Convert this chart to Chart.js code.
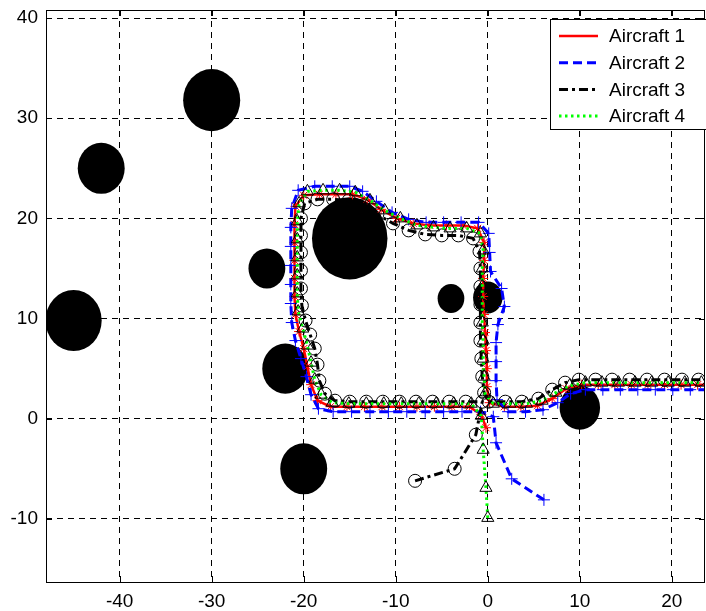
<!DOCTYPE html>
<html>
<head>
<meta charset="utf-8">
<script src="https://cdn.jsdelivr.net/npm/chart.js@4.4.0/dist/chart.umd.min.js"></script>
<style>
  html, body { margin: 0; padding: 0; background: #fff; }
  #wrap { width: 706px; height: 611px; }
</style>
</head>
<body>
<div id="wrap"><canvas id="pathChart" width="706" height="611"></canvas></div>
<script>
// axis limits and tick values
const xRange = [-48, 23.6];
const yRange = [-16.3, 40.8];
const xTicks = [-40, -30, -20, -10, 0, 10, 20];
const yTicks = [-10, 0, 10, 20, 30, 40];

// circular obstacles: centre x, centre y, radius
const obstacleX = [-30, -42, -45, -15, -24, -4, 0, -22, -20, 10];
const obstacleY = [31.8, 25, 9.8, 18, 15, 12, 12.1, 5, -5, 1.1];
const obstacleR = [3.1, 2.55, 3.05, 4.1, 2.0, 1.45, 1.6, 2.5, 2.55, 2.2];

const labels = ["Aircraft 1", "Aircraft 2", "Aircraft 3", "Aircraft 4"];

// flown positions, one sample per time step
const aircraft1 = [
  [-0.2,-0.9], [-0.7,0.4], [-2.0,1.2], [-3.9,1.2], [-5.8,1.2], [-7.7,1.2], [-9.6,1.2], [-11.5,1.2],
  [-13.4,1.2], [-15.3,1.2], [-17.1,1.2], [-18.5,1.8], [-19.2,3.4], [-19.6,5.2], [-20.0,7.0], [-20.5,8.7],
  [-20.9,10.4], [-21.0,12.2], [-21.0,14.0], [-21.0,15.8], [-21.0,17.6], [-21.0,19.4], [-20.9,21.2], [-20.0,22.3],
  [-18.3,22.4], [-16.5,22.4], [-14.7,22.4], [-13.1,21.9], [-11.6,20.9], [-9.9,20.0], [-8.1,19.5], [-6.3,19.3],
  [-4.5,19.3], [-2.7,19.3], [-1.1,19.0], [-0.4,17.6], [-0.4,15.8], [-0.5,14.0], [-0.5,12.2], [-0.4,10.4],
  [-0.3,8.6], [-0.2,6.8], [-0.1,5.0], [-0.1,3.2], [0.2,1.6], [1.8,1.2], [3.6,1.2], [5.4,1.3],
  [7.0,2.0], [8.5,3.0], [10.2,3.4], [12.0,3.4], [13.8,3.4], [15.6,3.4], [17.4,3.4], [19.2,3.4],
  [21.0,3.4], [22.8,3.4], [24.6,3.4]
];
const aircraft2 = [
  [6.1,-8.1], [2.6,-6.0], [0.9,-2.4], [0.6,0.2], [-0.8,0.7], [-2.8,0.7], [-4.8,0.7], [-6.8,0.7],
  [-8.8,0.7], [-10.8,0.7], [-12.8,0.7], [-14.8,0.7], [-16.8,0.7], [-18.4,1.0], [-19.2,2.4], [-19.7,4.2],
  [-20.3,6.0], [-20.9,7.8], [-21.3,9.6], [-21.4,11.5], [-21.4,13.4], [-21.4,15.3], [-21.4,17.2], [-21.4,19.1],
  [-21.3,21.0], [-20.6,22.8], [-18.8,23.2], [-16.9,23.2], [-15.0,23.2], [-13.6,22.7], [-12.1,21.7], [-10.4,20.6],
  [-8.6,19.9], [-6.7,19.6], [-4.8,19.6], [-2.9,19.6], [-1.0,19.6], [0.1,18.5], [0.2,16.6], [0.3,14.7],
  [1.5,13.0], [1.8,11.2], [1.1,9.4], [0.9,7.6], [0.9,5.7], [0.9,3.8], [1.0,1.9], [2.2,0.7],
  [4.1,0.7], [6.0,0.9], [7.6,1.6], [9.0,2.5], [10.6,2.9], [12.5,2.9], [14.4,2.9], [16.3,2.9],
  [18.2,2.9], [20.1,2.9], [22.0,2.9], [23.9,2.9]
];
const aircraft3 = [
  [-7.9,-6.2], [-3.6,-5.0], [-1.3,-1.6], [-0.6,1.7], [-2.4,1.7], [-4.2,1.7], [-6.0,1.7], [-7.8,1.7],
  [-9.6,1.7], [-11.4,1.7], [-13.2,1.7], [-15.0,1.7], [-16.6,1.8], [-17.7,2.5], [-18.3,3.8], [-18.5,5.4],
  [-18.8,7.0], [-19.3,8.4], [-19.8,9.8], [-20.2,11.3], [-20.3,13.0], [-20.3,14.8], [-20.3,16.6], [-20.3,18.3],
  [-20.3,20.0], [-19.9,21.5], [-18.5,21.9], [-16.8,21.9], [-15.1,21.8], [-13.5,21.3], [-12.0,20.4], [-10.3,19.5],
  [-8.6,18.8], [-6.8,18.4], [-5.0,18.3], [-3.2,18.3], [-1.6,18.0], [-0.9,16.7], [-0.8,15.0], [-0.8,13.2],
  [-0.8,11.4], [-0.8,9.6], [-0.8,7.8], [-0.7,6.0], [-0.6,4.2], [-0.4,2.6], [0.1,1.7], [1.9,1.7],
  [3.7,1.7], [5.5,2.0], [7.0,2.9], [8.4,3.6], [9.9,3.9], [11.7,3.9], [13.5,3.9], [15.4,3.9],
  [17.3,3.9], [19.2,3.9], [21.1,3.9], [22.9,3.9], [24.7,3.9]
];
const aircraft4 = [
  [0.0,-9.9], [-0.2,-6.9], [-0.5,-3.1], [-0.7,0.3], [-1.8,1.5], [-3.7,1.5], [-5.6,1.5], [-7.5,1.5],
  [-9.4,1.5], [-11.3,1.5], [-13.2,1.5], [-15.1,1.5], [-16.9,1.6], [-18.1,2.4], [-18.8,3.9], [-19.2,5.6],
  [-19.6,7.3], [-20.1,9.0], [-20.6,10.7], [-20.7,12.5], [-20.7,14.3], [-20.7,16.1], [-20.7,17.9], [-20.7,19.7],
  [-20.5,21.5], [-19.6,22.7], [-17.9,22.8], [-16.1,22.8], [-14.4,22.6], [-12.8,21.8], [-11.2,20.8], [-9.5,20.0],
  [-7.7,19.3], [-5.9,19.1], [-4.1,19.0], [-2.3,19.0], [-0.8,18.5], [-0.5,16.8], [-0.6,15.0], [-0.6,13.2],
  [-0.6,11.4], [-0.6,9.6], [-0.5,7.8], [-0.5,6.0], [-0.4,4.2], [-0.3,2.5], [0.6,1.5], [2.4,1.5],
  [4.2,1.5], [5.9,1.8], [7.4,2.6], [8.9,3.3], [10.6,3.6], [12.4,3.6], [14.2,3.6], [16.0,3.6],
  [17.8,3.6], [19.6,3.6], [21.4,3.6], [23.2,3.6]
];

const FONT = "'Liberation Sans', Arial, sans-serif";

function toPoints(arr) {
  return arr.map(p => ({ x: p[0], y: p[1] }));
}

// filled obstacle discs, drawn above the grid and below the flight paths
const obstaclePlugin = {
  id: "obstacles",
  beforeDatasetsDraw(chart) {
    const { ctx, chartArea, scales: { x, y } } = chart;
    ctx.save();
    ctx.beginPath();
    ctx.rect(chartArea.left, chartArea.top, chartArea.width, chartArea.height);
    ctx.clip();
    ctx.fillStyle = "#000";
    for (let i = 0; i < obstacleX.length; i++) {
      const cx = x.getPixelForValue(obstacleX[i]);
      const cy = y.getPixelForValue(obstacleY[i]);
      const rx = Math.abs(x.getPixelForValue(obstacleX[i] + obstacleR[i]) - cx);
      const ry = Math.abs(y.getPixelForValue(obstacleY[i] + obstacleR[i]) - cy);
      ctx.beginPath();
      ctx.ellipse(cx, cy, rx, ry, 0, 0, Math.PI * 2);
      ctx.fill();
    }
    ctx.restore();
  }
};

// axes box with inward tick marks on all four sides, then the legend box
const framePlugin = {
  id: "frame",
  afterDraw(chart) {
    const { ctx, chartArea: a, scales: { x, y } } = chart;
    ctx.save();
    ctx.strokeStyle = "#000";
    ctx.lineWidth = 1;
    ctx.setLineDash([]);
    ctx.beginPath();
    xTicks.forEach(v => {
      const px = Math.round(x.getPixelForValue(v)) + 0.5;
      ctx.moveTo(px, a.bottom); ctx.lineTo(px, a.bottom - 6);
      ctx.moveTo(px, a.top); ctx.lineTo(px, a.top + 6);
    });
    yTicks.forEach(v => {
      const py = Math.round(y.getPixelForValue(v)) + 0.5;
      ctx.moveTo(a.left, py); ctx.lineTo(a.left + 6, py);
      ctx.moveTo(a.right, py); ctx.lineTo(a.right - 6, py);
    });
    ctx.stroke();
    ctx.strokeRect(Math.round(a.left) + 0.5, Math.round(a.top) + 0.5,
      Math.round(a.width) - 1, Math.round(a.height));

    // legend
    const bx = 550.5, by = 19.5, bw = 160, bh = 110;
    ctx.fillStyle = "#fff";
    ctx.fillRect(bx, by, bw, bh);
    ctx.strokeRect(bx, by, bw, bh);
    ctx.font = "19px " + FONT;
    ctx.textBaseline = "middle";
    chart.data.datasets.forEach((ds, i) => {
      const ry = 36 + i * 26.7;
      ctx.strokeStyle = ds.borderColor;
      ctx.lineWidth = ds.borderWidth;
      ctx.setLineDash(ds.borderDash || []);
      ctx.beginPath();
      ctx.moveTo(559, ry); ctx.lineTo(598, ry);
      ctx.stroke();
      ctx.fillStyle = "#000";
      ctx.fillText(ds.label, 609, ry + 1);
    });
    ctx.restore();
  }
};

const common = { showLine: true, tension: 0, pointBackgroundColor: "rgba(0,0,0,0)", pointBorderWidth: 1 };

// later aircraft are drawn on top of earlier ones (lower order = drawn last)
const datasets = [
  Object.assign({
    label: labels[0], data: toPoints(aircraft1), borderColor: "#ff0000", borderWidth: 2.5, order: 4,
    pointStyle: "star", pointRadius: 5, pointBorderColor: "#ff0000"
  }, common),
  Object.assign({
    label: labels[1], data: toPoints(aircraft2), borderColor: "#0000ff", borderWidth: 3, borderDash: [9, 5], order: 3,
    pointStyle: "cross", pointRadius: 6, pointBorderColor: "#0000ff"
  }, common),
  Object.assign({
    label: labels[2], data: toPoints(aircraft3), borderColor: "#000000", borderWidth: 3, borderDash: [9, 4, 3, 4], order: 2,
    pointStyle: "circle", pointRadius: 6.5, pointBorderColor: "#000000"
  }, common),
  Object.assign({
    label: labels[3], data: toPoints(aircraft4), borderColor: "#00ff00", borderWidth: 3, borderDash: [2.5, 3.5], order: 1,
    pointStyle: "triangle", pointRadius: 7, pointBorderColor: "#000000"
  }, common)
];

new Chart(document.getElementById("pathChart"), {
  type: "scatter",
  data: { datasets },
  options: {
    responsive: false,
    animation: false,
    devicePixelRatio: 1,
    layout: { autoPadding: false, padding: { top: 10, right: 1, left: 0, bottom: 0 } },
    plugins: { legend: { display: false }, tooltip: { enabled: false } },
    scales: {
      x: {
        type: "linear", min: xRange[0], max: xRange[1],
        afterBuildTicks: s => { s.ticks = xTicks.map(v => ({ value: v })); },
        afterFit: s => { s.height = 29; s.paddingLeft = 0; s.paddingRight = 0; },
        grid: { color: "#000", lineWidth: 1, drawTicks: false },
        border: { display: false, dash: [6, 5] },
        ticks: { color: "#000", font: { family: FONT, size: 19 }, padding: 8, maxRotation: 0, autoSkip: false }
      },
      y: {
        type: "linear", min: yRange[0], max: yRange[1],
        afterBuildTicks: s => { s.ticks = yTicks.map(v => ({ value: v })); },
        afterFit: s => { s.width = 46; s.paddingTop = 0; s.paddingBottom = 0; },
        grid: { color: "#000", lineWidth: 1, drawTicks: false },
        border: { display: false, dash: [6, 5] },
        ticks: { color: "#000", font: { family: FONT, size: 19 }, padding: 8, autoSkip: false }
      }
    }
  },
  plugins: [obstaclePlugin, framePlugin]
});
</script>
</body>
</html>
